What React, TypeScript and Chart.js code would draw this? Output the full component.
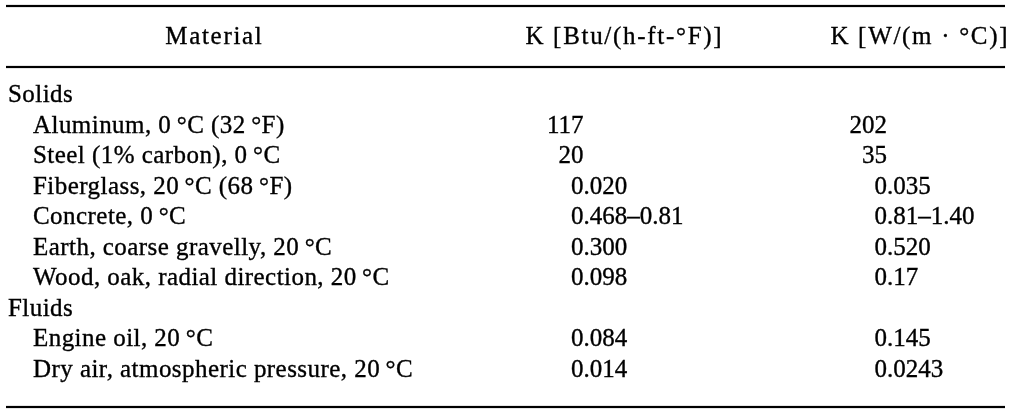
import React, { useEffect, useRef } from "react";
import { Chart, registerables } from "chart.js";

Chart.register(...registerables);

// ---- table content ----
const headers = ["Material", "K [Btu/(h-ft-\u00B0F)]", "K [W/(m \u00B7 \u00B0C)]"];

const materials = [
  "Solids",
  "Aluminum, 0\u2009\u00B0C (32\u2009\u00B0F)",
  "Steel (1% carbon), 0\u2009\u00B0C",
  "Fiberglass, 20\u2009\u00B0C (68\u2009\u00B0F)",
  "Concrete, 0\u2009\u00B0C",
  "Earth, coarse gravelly, 20\u2009\u00B0C",
  "Wood, oak, radial direction, 20\u2009\u00B0C",
  "Fluids",
  "Engine oil, 20\u2009\u00B0C",
  "Dry air, atmospheric pressure, 20\u2009\u00B0C",
];

const isGroupRow = [true, false, false, false, false, false, false, true, false, false];

const kBtu = ["", "117", "20", "0.020", "0.468\u20130.81", "0.300", "0.098", "", "0.084", "0.014"];
const kW = ["", "202", "35", "0.035", "0.81\u20131.40", "0.520", "0.17", "", "0.145", "0.0243"];

// ---- layout constants (pixels in the 1009 x 412 frame) ----
const W = 1009;
const H = 412;
const FONT = "25px 'Liberation Serif', 'Times New Roman', serif";
const GROUP_X = 8;
const LABEL_X = 33;
const HEADER_X = [213.5, 623.5, 919];
const DOT_X = [583.5, 887];
const HEADER_BASELINE = 43.5;
const RULES_Y = [6, 67, 407];
const RULE_X0 = 6;
const RULE_X1 = 1005;

const tablePlugin = {
  id: "tableText",
  afterDraw(chart: any) {
    const { ctx } = chart;
    const xs = chart.scales.x;
    const ys = chart.scales.y;
    ctx.save();
    ctx.fillStyle = "#000";
    ctx.strokeStyle = "#000";
    ctx.lineWidth = 0.35;
    ctx.font = FONT;
    ctx.textBaseline = "alphabetic";

    const put = (s: string, x: number, y: number) => {
      ctx.fillText(s, x, y);
      ctx.strokeText(s, x, y);
    };

    // rules
    RULES_Y.forEach((y) => {
      const x0 = xs.getPixelForValue(RULE_X0);
      const x1 = xs.getPixelForValue(RULE_X1);
      ctx.fillRect(x0, y - 1.1, x1 - x0, 2.2);
    });

    // header
    ctx.textAlign = "center";
    ctx.letterSpacing = "1.7px";
    headers.forEach((h, i) => {
      put(h, xs.getPixelForValue(HEADER_X[i]) + 0.85, HEADER_BASELINE);
    });

    // rows
    const drawDecimal = (s: string, dotX: number, y: number) => {
      if (!s) return;
      const k = s.indexOf(".");
      const intPart = k < 0 ? s : s.slice(0, k);
      const rest = k < 0 ? "" : s.slice(k);
      const px = xs.getPixelForValue(dotX);
      ctx.textAlign = "right";
      put(intPart, px, y);
      if (rest) {
        ctx.textAlign = "left";
        put(rest, px, y);
      }
    };

    materials.forEach((m, i) => {
      const y = ys.getPixelForValue(i);
      ctx.textAlign = "left";
      ctx.letterSpacing = "0.45px";
      put(m, xs.getPixelForValue(isGroupRow[i] ? GROUP_X : LABEL_X), y);
      ctx.letterSpacing = "0px";
      drawDecimal(kBtu[i], DOT_X[0], y);
      drawDecimal(kW[i], DOT_X[1], y);
    });
    ctx.restore();
  },
};

export default function App() {
  const ref = useRef<HTMLCanvasElement | null>(null);

  useEffect(() => {
    if (!ref.current) return;
    const chart = new Chart(ref.current, {
      type: "scatter",
      data: { datasets: [] },
      options: {
        animation: false,
        responsive: true,
        maintainAspectRatio: false,
        events: [],
        layout: { padding: { left: 0, right: 0, top: 86.7, bottom: 19.8 } },
        plugins: { legend: { display: false }, tooltip: { enabled: false } },
        scales: {
          x: { type: "linear", min: 0, max: W, display: false },
          y: { type: "category", labels: materials, offset: true, display: false },
        },
      },
      plugins: [tablePlugin],
    } as any);
    return () => chart.destroy();
  }, []);

  return (
    <div style={{ position: "absolute", left: 0, top: 0, width: W, height: H, background: "#fff" }}>
      <canvas ref={ref} />
    </div>
  );
}
